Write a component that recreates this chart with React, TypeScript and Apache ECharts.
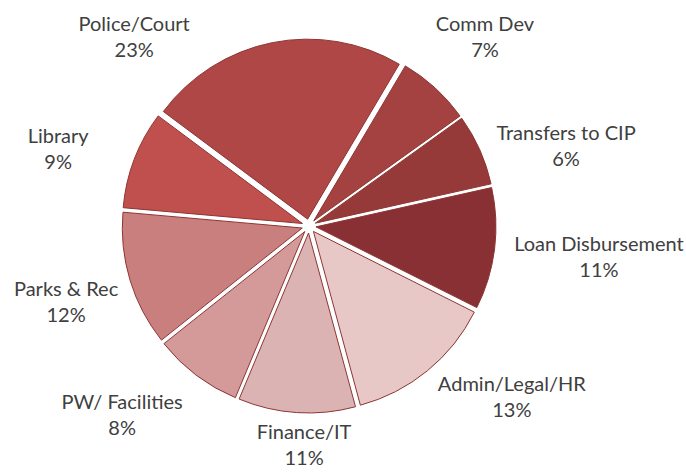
import React, { useEffect, useRef } from 'react';
import * as echarts from 'echarts';

// Slices in clockwise order starting after the Police/Court slice
const categories = [
  'Comm Dev',
  'Transfers to CIP',
  'Loan Disbursement',
  'Admin/Legal/HR',
  'Finance/IT',
  'PW/ Facilities',
  'Parks & Rec',
  'Library',
  'Police/Court',
];
const values = [6.6, 6.4, 10.9, 13.4, 10.5, 8.0, 12.1, 8.8, 23.3];

// styling / layout (kept separate from data)
const colors = ['#A34240', '#953A39', '#883034', '#E7C8C6', '#DCB3B3', '#D39A99', '#C97F7E', '#C0504D', '#AE4745'];
const labelAngles = [42.8, 72.5, 95.9, 130.0, 181.3, 224.8, 252.8, 287.3, 317.4];
const labelDistances = [259, 269.5, 291.5, 264.8, 218, 265.2, 254.3, 262.8, 258.3];

const CX = 309;
const CY = 226;
const RADIUS = 180;
const OFFSET = 7;
const START_ANGLE = 59.4;

export default function App() {
  const ref = useRef<HTMLDivElement>(null);
  useEffect(() => {
    if (!ref.current) return;
    const chart = echarts.init(ref.current, undefined, { renderer: 'svg' });
    const sliceData = categories.map((name, i) => ({
      name,
      value: values[i],
      selected: true,
      itemStyle: { color: colors[i] },
    }));
    const labelData = categories.map((name, i) => ({ name, value: values[i] }));
    chart.setOption({
      animation: false,
      backgroundColor: '#ffffff',
      series: [
        {
          type: 'pie',
          center: [CX, CY],
          radius: RADIUS,
          startAngle: START_ANGLE,
          clockwise: true,
          selectedMode: 'multiple',
          selectedOffset: OFFSET,
          data: sliceData,
          itemStyle: { borderColor: '#8E3533', borderWidth: 1 },
          select: { itemStyle: { borderColor: '#8E3533', borderWidth: 1 } },
          emphasis: { disabled: true },
          label: { show: false },
          labelLine: { show: false },
          silent: true,
        },
        {
          // label carrier: same slices, invisible, only shows the labels
          type: 'pie',
          center: [CX, CY],
          radius: RADIUS,
          startAngle: START_ANGLE,
          clockwise: true,
          percentPrecision: 0,
          avoidLabelOverlap: false,
          silent: true,
          z: 3,
          data: labelData,
          itemStyle: { color: 'rgba(0,0,0,0)', borderWidth: 0 },
          emphasis: { disabled: true },
          label: {
            show: true,
            position: 'outside',
            formatter: '{b}\n{d}%',
            fontFamily: 'Lato',
            fontSize: 20,
            lineHeight: 26,
            color: '#404040',
            width: 220,
            overflow: 'none',
            align: 'center',
          },
          labelLine: { show: false },
          labelLayout: (params: any) => {
            const i = params.dataIndex;
            const a = (labelAngles[i] * Math.PI) / 180;
            const d = labelDistances[i];
            return {
              x: CX + Math.sin(a) * d,
              y: CY - Math.cos(a) * d,
              align: 'center',
              verticalAlign: 'middle',
            };
          },
        },
      ],
    });
    return () => chart.dispose();
  }, []);
  return (
    <div
      ref={ref}
      style={{ position: 'absolute', left: 0, top: 0, width: 686, height: 472, background: '#fff' }}
    />
  );
}
